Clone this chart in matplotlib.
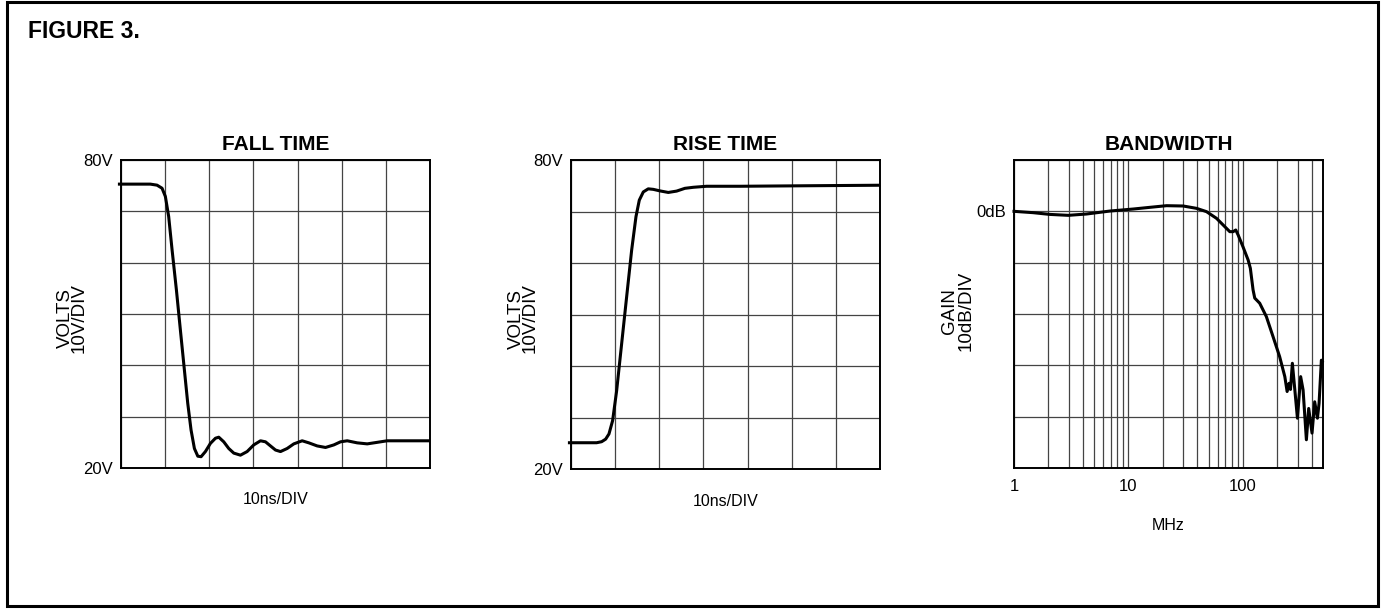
import matplotlib
matplotlib.use("Agg")
import matplotlib.pyplot as plt
from matplotlib.patches import Rectangle

plt.rcParams['font.family'] = ['Liberation Sans', 'DejaVu Sans']

# ---------------- data ----------------
# FALL TIME: x in divisions (10ns/DIV), volts
fall_t = [-0.07, 0.0, 0.665, 0.816, 0.93, 1.005, 1.08, 1.157, 1.255, 1.345, 1.436, 1.512,
          1.587, 1.663, 1.74, 1.814, 1.912, 2.026, 2.14, 2.215, 2.328, 2.441, 2.555, 2.706,
          2.857, 3.008, 3.16, 3.273, 3.386, 3.5, 3.613, 3.764, 3.915, 4.104, 4.255, 4.444,
          4.633, 4.822, 4.973, 5.125, 5.35, 5.578, 5.805, 6.03, 7.0]
fall_v = [75.3, 75.3, 75.3, 75.1, 74.5, 72.9, 69.0, 62.5, 54.7, 46.9, 39.1, 32.6,
          27.4, 23.8, 22.3, 22.2, 23.2, 24.8, 25.8, 26.0, 25.1, 23.8, 22.9, 22.5,
          23.2, 24.5, 25.3, 25.1, 24.3, 23.5, 23.2, 23.8, 24.7, 25.3, 24.9, 24.3,
          24.0, 24.5, 25.1, 25.3, 24.9, 24.7, 25.0, 25.3, 25.3]

# RISE TIME
rise_t = [-0.07, 0.0, 0.58, 0.694, 0.785, 0.86, 0.943, 1.034, 1.147, 1.26, 1.374, 1.472,
          1.547, 1.638, 1.75, 1.864, 2.015, 2.204, 2.392, 2.58, 2.77, 3.07, 3.83, 5.34, 7.0]
rise_v = [25.1, 25.1, 25.1, 25.3, 25.8, 26.8, 29.4, 35.2, 44.3, 53.4, 62.5, 69.0,
          72.2, 73.8, 74.4, 74.3, 74.0, 73.7, 73.96, 74.5, 74.7, 74.9, 74.9, 75.0, 75.1]

# BANDWIDTH: MHz, dB
bw_f = [0.97, 1.0, 1.47, 2.06, 2.98, 4.3, 6.9, 11.0, 15.4, 21.5, 30.0, 39.3, 48.0, 58.7,
        69.4, 76.7, 82.0, 86.5, 90.7, 100.0, 111.0, 116.0, 122.5, 126.7, 140.0, 160.0,
        183.0, 209.0, 232.0, 243.0, 253.0, 260.0, 270.0, 283.0, 299.0, 319.0, 335.0,
        358.0, 375.0, 401.0, 423.0, 447.0, 462.0, 484.0, 500.0]
bw_g = [0.0, 0.0, -0.26, -0.6, -0.78, -0.52, 0.06, 0.45, 0.78, 1.1, 1.04, 0.58, -0.06, -1.36,
        -2.99, -3.96, -3.96, -3.64, -4.6, -6.9, -9.5, -11.1, -15.3, -16.9, -17.9, -20.5,
        -24.4, -28.3, -32.2, -35.1, -33.5, -34.7, -29.6, -34.5, -40.3, -32.2, -34.8,
        -44.5, -38.4, -43.2, -37.1, -40.3, -37.4, -29.0, -29.5]

fall_yticks = [20, 30, 40, 50, 60, 70, 80]
fall_yticklabels = ['20V', '', '', '', '', '', '80V']
bw_yticks = [-50, -40, -30, -20, -10, 0, 10]
bw_yticklabels = ['', '', '', '', '', '0dB', '']
bw_xticks = [1, 10, 100]
bw_xticklabels = ['1', '10', '100']

# ---------------- figure ----------------
W, H = 1382, 612
fig = plt.figure(figsize=(W / 100, H / 100), dpi=100)

def ax_rect(x0, x1, y0, y1):
    return [x0 / W, 1 - y1 / H, (x1 - x0) / W, (y1 - y0) / H]

grid_kw = dict(color='#444444', linewidth=0.9)
tick_fs = 12
xlab_fs = 11.5
curve_kw = dict(color='black', linewidth=2.2, clip_on=False, solid_capstyle='butt', zorder=5)

def style_common(ax):
    for s in ax.spines.values():
        s.set_linewidth(1.4)
        s.set_color('black')
    ax.tick_params(axis='both', which='both', length=0, labelsize=tick_fs)
    ax.set_axisbelow(True)

def scope_panel(rect, title, t, v, ylabx):
    ax = fig.add_axes(ax_rect(*rect))
    ax.plot(t, v, **curve_kw)
    ax.set_xlim(0, 7)
    ax.set_ylim(20, 80)
    ax.set_xticks(range(0, 8))
    ax.set_xticklabels([])
    ax.set_yticks(fall_yticks)
    ax.set_yticklabels(fall_yticklabels)
    style_common(ax)
    ax.tick_params(axis='y', pad=6)
    ax.grid(True, **grid_kw)
    ax.set_title(title, fontsize=15, fontweight='bold', pad=7.5)
    ax.text(ylabx, 0.487, 'VOLTS\n10V/DIV', rotation=90, ha='center', va='center',
            transform=ax.transAxes, fontsize=13.5, linespacing=0.74)
    ax.text(0.5, -(500 - 468) / 308, '10ns/DIV', ha='center', va='center',
            transform=ax.transAxes, fontsize=xlab_fs)
    return ax

scope_panel((121, 430, 160, 468), 'FALL TIME', fall_t, fall_v, -0.159)
scope_panel((571, 880, 160, 469), 'RISE TIME', rise_t, rise_v, -0.155)

# Bandwidth
ax = fig.add_axes(ax_rect(1014, 1323, 160, 468))
ax.plot(bw_f, bw_g, **curve_kw)
ax.set_xscale('log')
ax.set_xlim(1, 500)
ax.set_ylim(-50, 10)
ax.set_xticks(bw_xticks)
ax.set_xticklabels(bw_xticklabels)
ax.xaxis.set_minor_locator(matplotlib.ticker.LogLocator(base=10, subs=range(2, 10)))
ax.xaxis.set_minor_formatter(matplotlib.ticker.NullFormatter())
ax.set_yticks(bw_yticks)
ax.set_yticklabels(bw_yticklabels)
style_common(ax)
ax.tick_params(axis='y', pad=6)
ax.tick_params(axis='x', pad=8)
ax.grid(True, which='both', **grid_kw)
ax.set_title('BANDWIDTH', fontsize=15, fontweight='bold', pad=7.5)
ax.text(-0.183, 0.51, 'GAIN\n10dB/DIV', rotation=90, ha='center', va='center',
        transform=ax.transAxes, fontsize=13.5, linespacing=0.98)
ax.text(0.5, -(525 - 468) / 308, 'MHz', ha='center', va='center',
        transform=ax.transAxes, fontsize=xlab_fs)

# Title and frame
fig.text(28 / W, 1 - 38 / H, 'FIGURE 3.', fontsize=16.5, fontweight='bold',
         ha='left', va='baseline')
fig.patches.append(Rectangle((6.5 / W, 1 - 606 / H), (1378 - 6.5) / W, (606 - 1.5) / H,
                             transform=fig.transFigure, fill=False, edgecolor='black',
                             linewidth=2.2))

fig.savefig('out.png', dpi=100)
